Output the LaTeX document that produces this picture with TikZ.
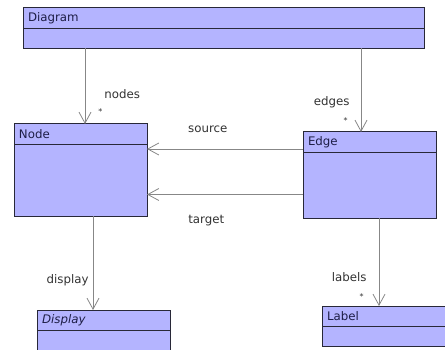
\documentclass[tikz,border=0pt]{standalone}
\usepackage{fontspec}
\setmainfont{DejaVu Sans}
\usetikzlibrary{positioning}
\usetikzlibrary{arrows.meta}

\definecolor{umlfill}{RGB}{180,180,255}
\definecolor{umlline}{RGB}{40,40,56}
\definecolor{umltext}{RGB}{30,30,70}
\definecolor{assocline}{RGB}{135,135,135}
\definecolor{roletext}{RGB}{50,50,50}

\begin{document}
\begin{tikzpicture}[x=1pt,y=-1pt,
	umlhead/.style={draw=umlline, fill=umlfill, line width=1pt, outer sep=0pt, text=umltext, anchor=north west,
		minimum height=20.5pt, text width=#1, inner xsep=5pt, inner ysep=0pt, font=\fontsize{11.8}{12}\selectfont},
	umlbody/.style 2 args={draw=umlline, fill=umlfill, line width=1pt, outer sep=0pt, minimum width=#1, minimum height=#2, inner sep=0pt},
	assoc/.style={draw=assocline, line width=0.8pt, -{Straight Barb[length=11pt,width=12pt]}},
	role/.style={text=roletext, inner sep=0pt, font=\fontsize{11.8}{12}\selectfont},
	mult/.style={text=roletext, inner sep=0pt, font=\fontsize{8}{8}\selectfont}]
\useasboundingbox (0,0) rectangle (445,350);
\begin{scope}
\clip (0,0) rectangle (445,350);
\node[umlhead=391pt] (diagram) at (23,8) {Diagram};
\node[umlbody={401pt}{20pt}, below=0pt of diagram] (diagramb) {};
\node[umlhead=123pt] (node) at (14,124) {Node};
\node[umlbody={133pt}{72pt}, below=0pt of node] (nodeb) {};
\node[umlhead=123pt] (edge) at (303,132) {Edge};
\node[umlbody={133pt}{66pt}, below=0pt of edge] (edgeb) {};
\node[umlhead=123pt] (display) at (37,310) {\itshape Display};
\node[umlbody={133pt}{40pt}, below=0pt of display] (displayb) {};
\node[umlhead=123pt] (label) at (322,306) {Label};
\node[umlbody={133pt}{20pt}, below=0pt of label] (labelb) {};
\end{scope}

% associations
\draw[assoc] ([xshift=62pt]diagramb.south west) -- ([xshift=71pt]node.north west)
	node[role, pos=.66, anchor=base west, xshift=19pt] {nodes}
	node[mult, pos=.88, anchor=base west, xshift=13pt] {*};
\draw[assoc] ([xshift=338pt]diagramb.south west) -- ([xshift=58pt]edge.north west)
	node[role, pos=.68, anchor=base east, xshift=-11pt] {edges}
	node[mult, pos=.9, anchor=base east, xshift=-13pt] {*};
\coordinate (src) at ([yshift=-17pt]edge.north west);
\coordinate (tgt) at ([yshift=24pt]edgeb.south west);
\draw[assoc] (src) -- (src -| nodeb.east)
	node[role, pos=.61, anchor=base, yshift=16pt] {source};
\draw[assoc] (tgt) -- (tgt -| nodeb.east)
	node[role, pos=.62, anchor=base, yshift=-29pt] {target};
\draw[assoc] ([xshift=79pt]nodeb.south west) -- ([xshift=56pt]display.north west)
	node[role, pos=.72, anchor=base east, xshift=-4pt] {display};
\draw[assoc] ([xshift=76pt]edgeb.south west) -- ([xshift=57pt]label.north west)
	node[role, pos=.72, anchor=base east, xshift=-12pt] {labels}
	node[mult, pos=.92, anchor=base east, xshift=-15pt] {*};
\end{tikzpicture}
\end{document}
